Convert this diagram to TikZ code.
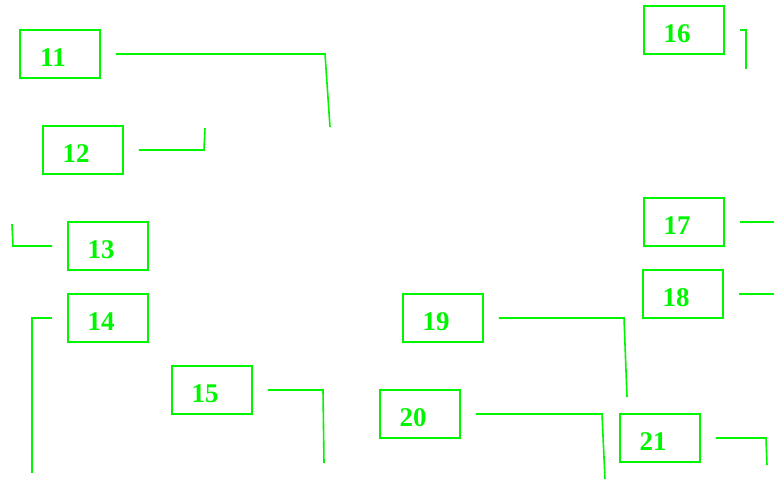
\documentclass[tikz,border=0pt]{standalone}
\usepackage{fontspec}
\setmainfont{Liberation Serif}
\definecolor{lg}{RGB}{0,245,0}
\begin{document}
\begin{tikzpicture}[x=1pt,y=-1pt,
  box/.style={draw=lg,line width=1.8pt,minimum width=80pt,minimum height=48pt,inner sep=0pt,
    label={[lbl]center:#1}},
  lbl/.style={text=lg,font=\fontsize{27}{27}\selectfont\bfseries,xshift=-7pt,yshift=-4pt,inner sep=0pt},
  conn/.style={draw=lg,line width=1.6pt}]
\useasboundingbox (0,0) rectangle (774,479);
\node[box=11] (b11) at (60,54) {};
\node[box=12] (b12) at (83,150) {};
\node[box=13] (b13) at (108,246) {};
\node[box=14] (b14) at (108,318) {};
\node[box=15] (b15) at (212,390) {};
\node[box=16] (b16) at (684,30) {};
\node[box=17] (b17) at (684,222) {};
\node[box=18] (b18) at (683,294) {};
\node[box=19] (b19) at (443,318) {};
\node[box=20] (b20) at (420,414) {};
\node[box=21] (b21) at (660,438) {};
\coordinate (e11) at (330,127);
\coordinate (e12) at (205,128);
\coordinate (e13) at (12,224);
\coordinate (e14) at (32,473);
\coordinate (e15) at (324,463);
\coordinate (e16) at (746,69);
\coordinate (e17) at (774,222);
\coordinate (e18) at (774,294);
\coordinate (e19) at (627,397);
\coordinate (e20) at (605,479);
\coordinate (e21) at (767,465);
\draw[conn] ([xshift=15pt]b11.east) -- (325,54) -- (e11);
\draw[conn] ([xshift=15pt]b12.east) -- (204,150) -- (e12);
\draw[conn] ([xshift=-15pt]b13.west) -- (13,246) -- (e13);
\draw[conn] ([xshift=-15pt]b14.west) -- (32,318) -- (e14);
\draw[conn] ([xshift=15pt]b15.east) -- (323,390) -- (e15);
\draw[conn] ([xshift=15pt]b16.east) -- (746,30) -- (e16);
\draw[conn] ([xshift=15pt]b17.east) -- (e17);
\draw[conn] ([xshift=15pt]b18.east) -- (e18);
\draw[conn] ([xshift=15pt]b19.east) -- (624,318) -- (e19);
\draw[conn] ([xshift=15pt]b20.east) -- (602,414) -- (e20);
\draw[conn] ([xshift=15pt]b21.east) -- (766,438) -- (e21);
\end{tikzpicture}
\end{document}
